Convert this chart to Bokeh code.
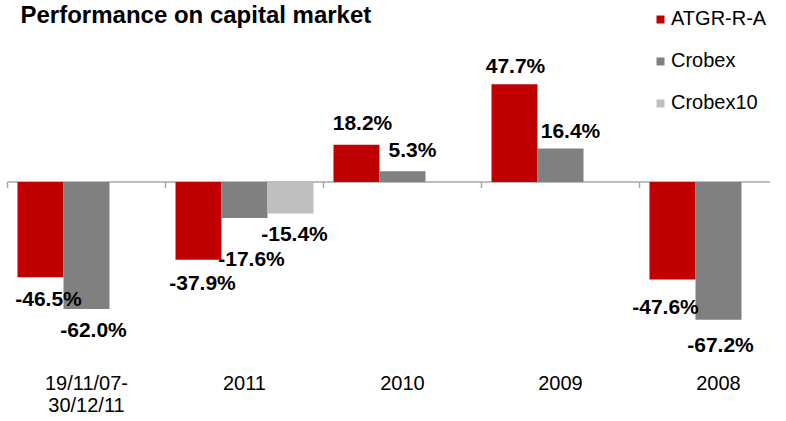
from bokeh.plotting import figure
from bokeh.models import ColumnDataSource, Range1d, FixedTicker, Legend, LegendItem, Label
from bokeh.core.properties import value
from bokeh.embed import file_html
from bokeh.resources import INLINE

# ---- data ----
categories = ["19/11/07-\n30/12/11", "2011", "2010", "2009", "2008"]
series_names = ["ATGR-R-A", "Crobex", "Crobex10"]
atgr = [-46.5, -37.9, 18.2, 47.7, -47.6]
crobex = [-62.0, -17.6, 5.3, 16.4, -67.2]
crobex10 = [None, -15.4, None, None, None]
colors = ["#C00000", "#808080", "#BFBFBF"]

# label nudges in screen pixels (dx: right, dy: down)
label_dx = [[8, 4, 6, 1, -7], [7, 7, 10, 10, 2], [0, 4, 0, 0, 0]]
label_dy = [[21, 23, -22, -19, 27], [20, 40, -22, -18, 25], [0, 20, 0, 0, 0]]

# ---- layout ----
FRAME_W, FRAME_H = 770, 358
CAT_PX = 158.0           # pixels per category
AXIS_X0 = 7.0            # frame px where first category starts
PX_PER_UNIT = 2.05
ZERO_PX = 181.5          # zero line, px from frame top

x_start = (0 - AXIS_X0) / CAT_PX
x_end = (FRAME_W - AXIS_X0) / CAT_PX
y_top = ZERO_PX / PX_PER_UNIT
y_bot = -(FRAME_H - ZERO_PX) / PX_PER_UNIT

FONT = "Liberation Sans"

p = figure(frame_width=FRAME_W, frame_height=FRAME_H,
           x_range=Range1d(x_start, x_end), y_range=Range1d(y_bot, y_top),
           output_backend="svg", toolbar_location=None, min_border=0,
           y_axis_location=None, outline_line_color=None,
           background_fill_color="white", border_fill_color="white")
p.grid.visible = False

bar_w = 46.0 / CAT_PX
offsets = [-bar_w, 0.0, bar_w]
all_series = [atgr, crobex, crobex10]
n = len(categories)

# zero line and tick marks at category boundaries
p.segment(x0=[0], y0=[0], x1=[n + 1], y1=[0], line_color="#A6A6A6", line_width=1.5)
bx = list(range(n + 1))
p.segment(x0=bx, y0=[0] * len(bx), x1=bx, y1=[-6 / PX_PER_UNIT] * len(bx),
          line_color="#A6A6A6", line_width=1.5)

legend_items = []
sources = []
for s, (name, vals, col, off) in enumerate(zip(series_names, all_series, colors, offsets)):
    xs, tops, texts, dxs, dys = [], [], [], [], []
    for i, v in enumerate(vals):
        if v is None:
            continue
        xs.append(i + 0.5 + off)
        tops.append(v)
        texts.append(f"{v:.1f}%")
        dxs.append(label_dx[s][i])
        dys.append(label_dy[s][i])
    src = ColumnDataSource(dict(x=xs, top=tops, text=texts, dx=dxs, dy=dys))
    sources.append(src)
    r = p.vbar(x="x", top="top", bottom=0, width=bar_w, source=src,
               fill_color=col, line_color=None)
    legend_items.append(LegendItem(label=name, renderers=[r]))

for src in sources:
    p.text(x="x", y="top", text="text", x_offset="dx", y_offset="dy", source=src,
           text_font=value(FONT), text_font_style="bold", text_font_size="21px",
           text_color="black", text_align="center", text_baseline="middle")

legend = Legend(items=legend_items, location=(655, FRAME_H - 114),
                glyph_width=10, glyph_height=10, label_standoff=6, spacing=19,
                padding=0, margin=0, border_line_color=None, background_fill_alpha=0,
                label_text_font=FONT, label_text_font_size="20px", label_text_color="black")
p.add_layout(legend)

title = Label(x=20, y=FRAME_H, x_units="screen", y_units="screen",
              text="Performance on capital market", text_font=FONT,
              text_font_style="bold", text_font_size="24px", text_color="black",
              text_baseline="top", text_align="left")
p.add_layout(title)

ax = p.xaxis[0]
ax.ticker = FixedTicker(ticks=[i + 0.5 for i in range(n)])
ax.major_label_overrides = {i + 0.5: c for i, c in enumerate(categories)}
ax.axis_line_color = None
ax.major_tick_line_color = None
ax.minor_tick_line_color = None
ax.major_tick_in = 0
ax.major_tick_out = 0
ax.major_label_standoff = 13
ax.major_label_text_font = FONT
ax.major_label_text_font_size = "20px"
ax.major_label_text_line_height = 1.0
ax.major_label_text_color = "black"

open("out.html", "w").write(file_html(p, INLINE))
